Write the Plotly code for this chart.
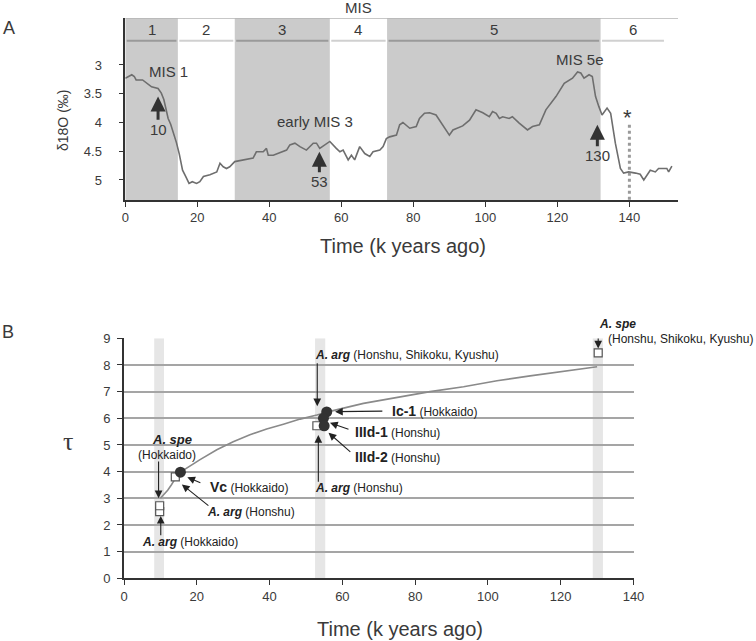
import plotly.graph_objects as go

# ---------------- Panel A data ----------------
d18o_time = [0, 1.8, 2.5, 3, 4.8, 6, 7.3, 9.1, 10, 10.7, 11.3, 11.9, 12.6, 13.5, 14.2, 15,
             15.9, 16.8, 17.7, 18.6, 19.8, 20.7, 21.7, 23.5, 25.4, 26.3, 27.2, 28.1, 29,
             30.4, 32.7, 35.5, 36.4, 38.3, 39.2, 39.7, 41.1, 43.8, 44.8, 45.7, 47.1, 48.5,
             50.3, 52.2, 53.1, 54, 55.4, 56.8, 58.6, 59.6, 60.5, 61.9, 62.8, 63.7, 65.1,
             66.5, 67.9, 68.8, 70.7, 71.6, 72.5, 73.4, 75.3, 76.2, 77.1, 79, 80.8, 81.7,
             83.1, 84.5, 86.3, 87.7, 90, 91, 93.7, 95.6, 97.4, 99.3, 101.1, 102, 103,
             103.9, 104.8, 106.6, 107.5, 109.4, 111.7, 113.1, 115, 116.8, 119.6, 121.9,
             124.2, 125.6, 126.5, 127.4, 128.8, 129.7, 130.6, 131.5, 132.4, 133.8, 134.8,
             136.1, 137.5, 138.4, 139.8, 141.7, 143, 144, 145.8, 147.2, 148.1, 150.4,
             150.9, 151.8]
d18o_value = [3.23, 3.17, 3.2, 3.26, 3.26, 3.31, 3.38, 3.41, 3.49, 3.6, 3.75, 3.93, 4.03, 4.2, 4.35, 4.55,
              4.83, 4.94, 5.06, 5.03, 5.06, 5.03, 4.94, 4.91, 4.86, 4.71, 4.77, 4.8, 4.77,
              4.68, 4.65, 4.62, 4.51, 4.51, 4.45, 4.57, 4.57, 4.51, 4.48, 4.39, 4.36, 4.42,
              4.48, 4.36, 4.36, 4.45, 4.39, 4.33, 4.45, 4.51, 4.48, 4.65, 4.57, 4.65, 4.42,
              4.54, 4.59, 4.51, 4.48, 4.42, 4.28, 4.25, 4.22, 4.04, 4.0, 4.1, 4.07, 3.93,
              3.84, 3.83, 3.87, 4.01, 4.22, 4.13, 4.06, 3.96, 3.78, 3.83, 3.9, 3.81, 3.84,
              3.93, 3.9, 3.93, 3.9, 4.01, 4.13, 4.07, 4.04, 3.78, 3.55, 3.32,
              3.23, 3.12, 3.14, 3.23, 3.17, 3.2, 3.55, 3.72, 3.87, 3.75, 3.84,
              4.36, 4.8, 4.88, 4.86, 4.88, 4.9, 5.0, 4.83, 4.86, 4.8, 4.8,
              4.86, 4.76]
assert len(d18o_time) == len(d18o_value)

mis_labels = ["1", "2", "3", "4", "5", "6"]
mis_start = [0, 14.6, 30.4, 56.8, 72.7, 132.0]
mis_end = [14.6, 30.4, 56.8, 72.7, 132.0, 150.0]
mis_shaded = [True, False, True, False, True, False]

a_xticks = [0, 20, 40, 60, 80, 100, 120, 140]
a_yticks = [3, 3.5, 4, 4.5, 5]

# ---------------- Panel B data ----------------
curve_time = [10, 11, 12, 13, 14, 15.4, 18, 20.9, 25.5, 30, 34.6, 39.2, 43.8, 48.4, 53, 56.6,
              65.8, 75, 84.1, 93.3, 102.5, 111.6, 120.8, 129, 130]
curve_tau = [3.0, 3.15, 3.3, 3.5, 3.72, 3.97, 4.2, 4.45, 4.82, 5.12, 5.38, 5.6, 5.78, 5.97, 6.12, 6.26,
             6.56, 6.79, 7.0, 7.18, 7.41, 7.59, 7.75, 7.91, 7.93]

square_time = [9.8, 9.8, 14.1, 53.0, 130.3]
square_tau = [2.5, 2.72, 3.8, 5.72, 8.45]
circle_time = [15.5, 55.7, 54.8, 55.0]
circle_tau = [3.98, 6.24, 6.0, 5.72]

band_start = [8.3, 52.5, 128.8]
band_end = [11.0, 55.3, 131.6]

b_xticks = [0, 20, 40, 60, 80, 100, 120, 140]
b_yticks = [0, 1, 2, 3, 4, 5, 6, 7, 8, 9]

W, H = 756, 641
FONT = "Liberation Sans, Arial, sans-serif"
TXT = "#3a3a3a"


def px(x):
    return x / W


def py(y):
    return 1 - y / H


fig = go.Figure()

fig.add_trace(go.Scatter(x=d18o_time, y=d18o_value, mode="lines",
                         line=dict(color="#6e6e6e", width=1.6), xaxis="x", yaxis="y",
                         showlegend=False, hoverinfo="skip"))

fig.add_trace(go.Scatter(x=curve_time, y=curve_tau, mode="lines",
                         line=dict(color="#8a8a8a", width=1.6), xaxis="x2", yaxis="y2",
                         showlegend=False, hoverinfo="skip"))
fig.add_trace(go.Scatter(x=square_time, y=square_tau, mode="markers",
                         marker=dict(symbol="square", size=8, color="white",
                                     line=dict(color="#555555", width=1.2)),
                         xaxis="x2", yaxis="y2", showlegend=False, hoverinfo="skip"))
fig.add_trace(go.Scatter(x=circle_time, y=circle_tau, mode="markers",
                         marker=dict(symbol="circle", size=11, color="#333333"),
                         xaxis="x2", yaxis="y2", showlegend=False, hoverinfo="skip"))

shapes = []
A_TOP, A_BOT = 2.183, 5.348
HEAD_LINE = 2.58
for s, e, sh in zip(mis_start, mis_end, mis_shaded):
    if sh:
        shapes.append(dict(type="rect", xref="x", yref="y", x0=s, x1=e, y0=A_TOP, y1=A_BOT,
                           fillcolor="#cbcbcb", line=dict(width=0), layer="below"))
    shapes.append(dict(type="line", xref="x", yref="y", x0=s + 0.4, x1=e - 0.4,
                       y0=HEAD_LINE, y1=HEAD_LINE,
                       line=dict(color="#9a9a9a" if sh else "#d0d0d0", width=2)))
shapes.append(dict(type="line", xref="x", yref="y", x0=0, x1=153.5, y0=A_TOP, y1=A_TOP,
                   line=dict(color="#b5b5b5", width=1.5)))
shapes.append(dict(type="line", xref="x", yref="y", x0=140, x1=140, y0=4.04, y1=A_BOT,
                   line=dict(color="#9a9a9a", width=3, dash="dot")))
for s, e in zip(band_start, band_end):
    shapes.append(dict(type="rect", xref="x2", yref="y2", x0=s, x1=e, y0=0, y1=9,
                       fillcolor="#e6e6e6", line=dict(width=0), layer="below"))

ann = []
for lab, s, e in zip(mis_labels, mis_start, mis_end):
    ann.append(dict(x=(s + e) / 2, y=2.38, xref="x", yref="y", text=lab, showarrow=False,
                    font=dict(size=15, color=TXT, family=FONT)))


def paper_text(x, y, text, size, family=FONT, angle=0, xanchor="center"):
    ann.append(dict(x=px(x), y=py(y), xref="paper", yref="paper", text=text, showarrow=False,
                    xanchor=xanchor, yanchor="middle", textangle=angle,
                    font=dict(size=size, color=TXT, family=family)))


paper_text(358, 8, "MIS", 15)


def t_a(x, y, text, size=15):
    ann.append(dict(x=x, y=y, xref="x", yref="y", text=text, showarrow=False,
                    font=dict(size=size, color=TXT, family=FONT)))


def arr_a(x, y0, y1):
    ann.append(dict(x=x, y=y1, ax=x, ay=y0, xref="x", yref="y", axref="x", ayref="y",
                    text="", showarrow=True, arrowhead=2, arrowsize=1.0, arrowwidth=3,
                    arrowcolor="#333333", standoff=0))


t_a(11.9, 3.12, "MIS 1")
arr_a(9.1, 3.98, 3.55)
t_a(9.1, 4.12, "10")
t_a(52.6, 3.99, "early MIS 3")
arr_a(53.9, 4.89, 4.51)
t_a(53.9, 5.03, "53")
t_a(126.3, 2.91, "MIS 5e")
arr_a(131.1, 4.44, 4.04)
t_a(131.1, 4.58, "130")
t_a(139.6, 3.92, "*", size=22)


# Panel B labels (placed in paper coordinates through the B-axis mapping)
B_X0, B_X1, B_Y0, B_Y1 = 124.0, 633.5, 578.3, 338.3


def bx(t):
    return px(B_X0 + (B_X1 - B_X0) * t / 140.0)


def by(v):
    return py(B_Y0 + (B_Y1 - B_Y0) * v / 9.0)


def t_b(x, y, text, size=12, anchor="left"):
    ann.append(dict(x=bx(x), y=by(y), xref="paper", yref="paper", text=text, showarrow=False,
                    xanchor=anchor, yanchor="middle",
                    font=dict(size=size, color="#222222", family=FONT)))


def arr_b(x0, y0, x1, y1):
    ann.append(dict(x=x1, y=y1, ax=x0, ay=y0, xref="x2", yref="y2", axref="x2", ayref="y2",
                    text="", showarrow=True, arrowhead=2, arrowsize=1.4, arrowwidth=1.1,
                    arrowcolor="#222222", standoff=0))


def B(s):
    return "<b><span style='font-size:14px'>" + s + "</span></b>"


def BI(s):
    return "<b><i>" + s + "</i></b>"


t_b(130.0, 9.52, BI("A. spe"), size=12)
t_b(132.4, 8.96, "(Honshu, Shikoku, Kyushu)")
arr_b(130.3, 9.05, 130.3, 8.62)

t_b(52.0, 8.37, BI("A. arg") + " (Honshu, Shikoku, Kyushu)")
arr_b(53.1, 8.12, 53.1, 6.45)

t_b(73.0, 6.27, B("Ic-1") + " (Hokkaido)")
arr_b(71.4, 6.27, 58.0, 6.25)

t_b(62.9, 5.50, B("IIId-1") + " (Honshu)")
arr_b(62.1, 5.57, 56.6, 5.83)

t_b(62.9, 4.56, B("IIId-2") + " (Honshu)")
arr_b(62.6, 4.69, 56.2, 5.46)

t_b(52.0, 3.37, BI("A. arg") + " (Honshu)")
arr_b(53.4, 3.56, 53.4, 5.37)

t_b(23.2, 3.43, B("Vc") + " (Hokkaido)")
arr_b(21.4, 3.56, 17.4, 3.79)

t_b(22.3, 2.50, BI("A. arg") + " (Honshu)")
arr_b(23.6, 2.68, 15.9, 3.52)

t_b(13.1, 5.19, BI("A. spe"), size=13, anchor="center")
t_b(11.8, 4.62, "(Hokkaido)", anchor="center")
arr_b(9.5, 4.44, 9.5, 3.0)

t_b(4.4, 1.37, BI("A. arg") + " (Hokkaido)")
arr_b(10.1, 1.56, 10.1, 2.34)

# titles & panel letters
paper_text(403, 246, "Time (k years ago)", 20)
paper_text(400, 629, "Time (k years ago)", 20)
paper_text(63, 121, "δ18O (‰)", 14, angle=-90)
paper_text(68, 441, "τ", 26, family="Liberation Serif, serif")
paper_text(8.5, 28, "A", 18)
paper_text(7.5, 332, "B", 18)

axis_common = dict(showline=True, linecolor="#333333", linewidth=1.6, ticks="outside",
                   ticklen=5, tickcolor="#333333", tickwidth=1.3, zeroline=False,
                   automargin=False, tickfont=dict(size=13, color=TXT, family=FONT))

fig.update_layout(
    template="none",
    width=W, height=H, margin=dict(l=0, r=0, t=0, b=0, autoexpand=False),
    paper_bgcolor="white", plot_bgcolor="rgba(0,0,0,0)",
    showlegend=False,
    xaxis=dict(domain=[px(125.3), px(678)], range=[0, 153.5], anchor="y",
               tickvals=a_xticks, showgrid=False, **axis_common),
    yaxis=dict(domain=[py(200), py(18)], range=[A_BOT, A_TOP], anchor="x",
               tickvals=a_yticks, ticktext=[str(v) for v in a_yticks], showgrid=False,
               ticklabelstandoff=14, **axis_common),
    xaxis2=dict(domain=[px(B_X0), px(B_X1)], range=[0, 140], anchor="y2",
                tickvals=b_xticks, showgrid=False, **axis_common),
    yaxis2=dict(domain=[py(B_Y0), py(B_Y1)], range=[0, 9], anchor="x2",
                tickvals=b_yticks, showgrid=True, gridcolor="#a5a5a5", gridwidth=1.5,
                ticklabelstandoff=4, **axis_common),
    shapes=shapes, annotations=ann,
)

fig.write_html("out.html", config={"displayModeBar": False},
               post_script="document.body.style.margin='0';document.body.style.overflow='hidden';")
